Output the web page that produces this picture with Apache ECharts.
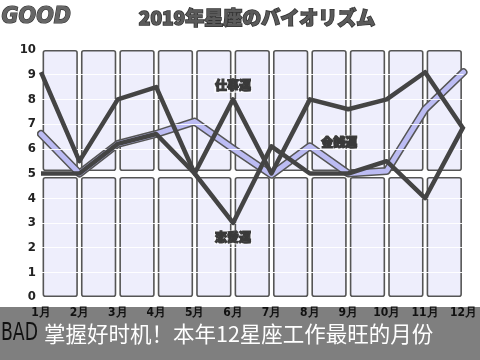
<!DOCTYPE html>
<html><head><meta charset="utf-8">
<script src="https://cdn.jsdelivr.net/npm/echarts@6/dist/echarts.min.js"></script>
<style>html,body{margin:0;padding:0;background:#fff}#c{width:480px;height:360px}</style>
</head><body><div id="c"></div>
<script>
var months = ['1月','2月','3月','4月','5月','6月','7月','8月','9月','10月','11月','12月'];
var yTicks = [0,1,2,3,4,5,6,7,8,9,10];
var workLuck  = [9.1, 5.5, 8.0, 8.5, 5.0, 8.0, 5.0, 8.0, 7.6, 8.0, 9.1, 6.8];
var loveLuck  = [5.0, 5.0, 6.2, 6.6, 5.0, 3.0, 6.1, 5.0, 5.0, 5.5, 4.0, 6.9];
var moneyLuck = [6.6, 5.0, 6.2, 6.6, 7.1, 6.0, 4.95, 6.1, 5.0, 5.1, 7.6, 9.1];
var seriesNames = ['仕事運','恋愛運','金銭運'];
var titleText = '2019年星座のバイオリズム';
var footerText = '掌握好时机！本年12星座工作最旺的月份';
// background panel columns (decoration): lower box, gap, upper box
var columns = months.slice(0, 11);
var lowerBox = columns.map(function(){return 4.86;});
var gapBox = columns.map(function(){return 0.24;});
var upperBox = columns.map(function(){return 4.9;});

function withLabel(arr, idx, pos, text, extra) {
  return arr.map(function(v, i){
    if (i !== idx) return v;
    var lb = Object.assign({show:true, position:pos, formatter:text, color:'#3a3a3a', fontSize:12, fontWeight:900,
      fontFamily:'Noto Sans CJK JP', textBorderColor:'#3a3a3a', textBorderWidth:1.2,
      backgroundColor:'rgba(255,255,255,0.6)', padding:[1,1]}, extra||{});
    return {value:v, label:lb};
  });
}

var chart = echarts.init(document.getElementById('c'), null, {renderer:'canvas'});
var boxStyle = {color:'#eeeefc', borderColor:'#555', borderWidth:1.6, borderRadius:2};
var whiteLines = yTicks.filter(function(t){return t>0 && t<10 && t!==5;}).map(function(t){return {yAxis:t};});
var lineCommon = {showSymbol:true, symbol:'circle', symbolSize:1, itemStyle:{color:'rgba(0,0,0,0)', borderWidth:0}};
chart.setOption({
  animation:false,
  backgroundColor:'#fff',
  title:{text:titleText, left:252, top:3, textAlign:'center',
    textStyle:{fontFamily:'Noto Sans CJK JP', fontSize:19, fontWeight:900, color:'#5a5a5a', textBorderColor:'#333', textBorderWidth:1.5}},
  graphic:[
    {type:'rect', z:-10, shape:{x:0, y:307, width:480, height:53}, style:{fill:'#7f7f7f'}},
    {type:'text', z:10, left:1, top:5, style:{text:'GOOD', font:'italic 900 23px "DejaVu Sans Condensed"', fill:'#666', stroke:'#333', lineWidth:1.2}},
    {type:'text', z:10, x:1, y:322, scaleX:0.72, style:{text:'BAD', font:'24px "DejaVu Sans"', fill:'#111'}},
    {type:'text', z:10, left:44, top:323, style:{text:footerText, font:'21.5px "Noto Sans CJK SC"', fill:'#fff'}}
  ],
  grid:{left:41, right:13, top:50, bottom:63},
  xAxis:[
    {type:'category', data:months, boundaryGap:false,
      axisLine:{show:false}, axisTick:{show:false}, splitLine:{show:false},
      axisLabel:{margin:10, color:'#111', fontSize:12, fontWeight:'bold', fontFamily:'DejaVu Sans Condensed', interval:0}},
    {type:'category', data:columns, boundaryGap:true, show:false}
  ],
  yAxis:{type:'value', min:0, max:10, interval:1,
    axisLine:{show:false}, axisTick:{show:false}, splitLine:{show:false},
    axisLabel:{margin:5, color:'#222', fontSize:13, fontWeight:'bold', fontFamily:'DejaVu Sans Condensed'}},
  series:[
    {type:'bar', xAxisIndex:1, stack:'bg', data:lowerBox, barWidth:'92%', silent:true, itemStyle:boxStyle,
      markLine:{silent:true, symbol:'none', label:{show:false}, lineStyle:{color:'#fff', width:1, type:'solid', opacity:0.9}, data:whiteLines}},
    {type:'bar', xAxisIndex:1, stack:'bg', data:gapBox, barWidth:'92%', silent:true, itemStyle:{color:'rgba(0,0,0,0)'}},
    {type:'bar', xAxisIndex:1, stack:'bg', data:upperBox, barWidth:'92%', silent:true, itemStyle:boxStyle},
    {type:'line', name:seriesNames[2]+'_edge', data:moneyLuck, showSymbol:false, symbol:'none', silent:true,
      lineStyle:{color:'#555', width:8, join:'round', cap:'round'}, z:3},
    Object.assign({type:'line', name:seriesNames[2], data:withLabel(moneyLuck, 7, 'right', seriesNames[2], {distance:10, offset:[0,-4]}),
      lineStyle:{color:'#bcbcf3', width:5, join:'round', cap:'round'}, z:4}, lineCommon),
    Object.assign({type:'line', name:seriesNames[0], data:withLabel(workLuck, 5, 'top', seriesNames[0], {distance:6}),
      lineStyle:{color:'#444', width:4.5, join:'round'}, z:5}, lineCommon),
    Object.assign({type:'line', name:seriesNames[1], data:withLabel(loveLuck, 5, 'bottom', seriesNames[1], {distance:7}),
      lineStyle:{color:'#444', width:4.5, join:'round'}, z:5}, lineCommon)
  ]
});
</script></body></html>
